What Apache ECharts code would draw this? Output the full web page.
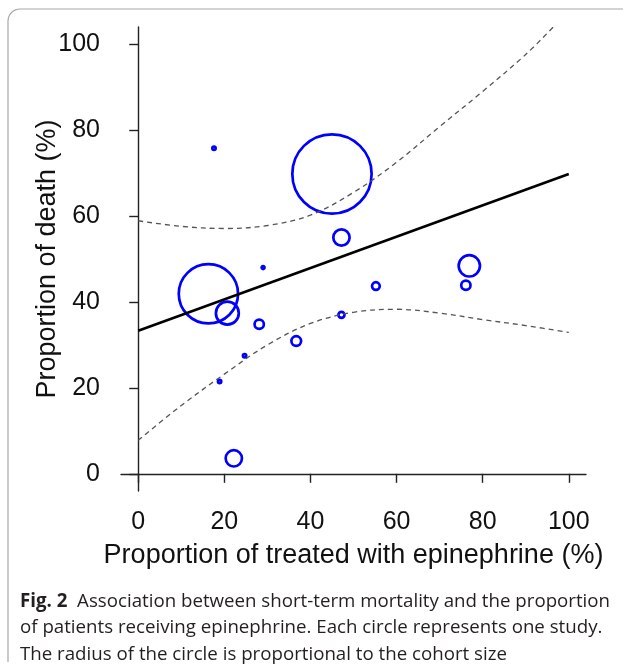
<!DOCTYPE html>
<html>
<head>
<meta charset="utf-8">
<script src="https://cdn.jsdelivr.net/npm/echarts@6/dist/echarts.min.js"></script>
<style>
html,body{margin:0;padding:0;background:#fff;}
#chart{width:623px;height:670px;}
</style>
</head>
<body>
<div id="chart"></div>
<script>
// ---- data ----
const xTickValues = [0, 20, 40, 60, 80, 100];
const yTickValues = [0, 20, 40, 60, 80, 100];

// studies: proportion treated with epinephrine (%), proportion of death (%), cohort size (relative)
const studyX =      [17.6, 45.0, 47.2, 16.3, 20.7, 29.0, 28.1, 36.7, 24.7, 18.9, 22.2, 76.9, 76.1, 55.2, 47.2];
const studyY =      [75.8, 69.8, 55.0, 41.9, 37.4, 48.0, 34.8, 30.9, 27.5, 21.5,  3.6, 48.4, 43.9, 43.7, 37.0];
const studyCohort = [ 300, 4100,  950, 3100, 1280,  280,  600,  620,  300,  300,  950, 1200,  600,  520,  440];

// meta-regression fit
const fitX = [0, 100];
const fitY = [33.3, 69.8];

// confidence band
const upperX = [0, 10, 20, 30, 40, 50, 60, 70, 80, 90, 96.4];
const upperY = [58.9, 57.6, 57.1, 57.8, 60.2, 65.5, 72.5, 80.8, 89.0, 97.6, 104.0];
const lowerX = [0, 10, 20, 30, 40, 50, 60, 70, 80, 90, 100];
const lowerY = [7.8, 15.9, 23.2, 30.0, 35.0, 37.6, 38.3, 37.4, 35.9, 34.5, 32.9];

const xTitle = 'Proportion of treated with epinephrine (%)';
const yTitle = 'Proportion of death (%)';
const captionBold = 'Fig. 2';
const captionLines = [
  '  Association between short-term mortality and the proportion',
  'of patients receiving epinephrine. Each circle represents one study.',
  'The radius of the circle is proportional to the cohort size'
];

// ---- chart ----
const pxPerPatient = 0.01;
const ringWidth = 2.7;
const axisFont = 'Arial';
const capFont = 'Open Sans';
const capSize = 18.7;

const zip = (xs, ys) => xs.map((x, i) => [x, ys[i]]);

// frame (decorative): top and left border with rounded top-left corner
const framePts = [[623, 9]];
const cr = 12;
for (let k = 0; k <= 8; k++) {
  const a = Math.PI / 2 + (Math.PI / 2) * (k / 8);
  framePts.push([8 + cr + cr * Math.cos(a), 9 + cr - cr * Math.sin(a)]);
}
framePts.push([8, 662]);

const chart = echarts.init(document.getElementById('chart'), null, {renderer: 'canvas'});

const axisCommon = {
  type: 'value',
  min: -4,
  max: 104,
  splitLine: {show: false},
  axisLine: {show: true, lineStyle: {color: '#222', width: 1.4}},
  axisTick: {show: true, length: 9, lineStyle: {color: '#222', width: 1.4}},
  axisLabel: {color: '#111', fontSize: 25, fontFamily: axisFont},
  nameTextStyle: {color: '#111', fontSize: 27, fontFamily: axisFont},
  nameLocation: 'middle',
  nameMoveOverlap: false
};

chart.setOption({
  animation: false,
  backgroundColor: '#fff',
  grid: {left: 121, right: 37, top: 27, bottom: 179, containLabel: false},
  xAxis: Object.assign({}, axisCommon, {
    name: xTitle,
    nameGap: 51,
    axisTick: Object.assign({}, axisCommon.axisTick, {customValues: xTickValues}),
    axisLabel: Object.assign({}, axisCommon.axisLabel, {customValues: xTickValues, margin: 19})
  }),
  yAxis: Object.assign({}, axisCommon, {
    name: yTitle,
    nameGap: 60,
    axisTick: Object.assign({}, axisCommon.axisTick, {customValues: yTickValues}),
    axisLabel: Object.assign({}, axisCommon.axisLabel, {customValues: yTickValues, margin: 21})
  }),
  series: [
    {
      type: 'scatter',
      data: studyX.map((x, i) => [x, studyY[i], studyCohort[i]]),
      symbol: 'circle',
      symbolSize: (v) => Math.max(1, 2 * v[2] * pxPerPatient - ringWidth),
      itemStyle: {color: 'rgba(255,255,255,0)', borderColor: '#0000ff', borderWidth: ringWidth, opacity: 1},
      silent: true,
      z: 2
    },
    {
      type: 'line',
      data: zip(fitX, fitY),
      showSymbol: false,
      lineStyle: {color: '#000', width: 2.6},
      silent: true,
      z: 3
    },
    {
      type: 'line',
      data: zip(upperX, upperY),
      showSymbol: false,
      smooth: 0.35,
      lineStyle: {color: '#555', width: 1.3, type: [5, 4]},
      silent: true,
      z: 3
    },
    {
      type: 'line',
      data: zip(lowerX, lowerY),
      showSymbol: false,
      smooth: 0.35,
      lineStyle: {color: '#555', width: 1.3, type: [5, 4]},
      silent: true,
      z: 3
    }
  ],
  graphic: [
    {
      type: 'polyline',
      shape: {points: framePts},
      style: {fill: null, stroke: '#a8a8a8', lineWidth: 1.2},
      silent: true
    },
    {
      type: 'text',
      left: 20, top: 592,
      style: {
        text: '{b|' + captionBold + '}' + captionLines[0],
        fill: '#231f20',
        fontSize: capSize,
        fontFamily: capFont,
        rich: {b: {fontWeight: 'bold', fontSize: capSize, fontFamily: capFont, fill: '#231f20'}}
      },
      silent: true
    },
    {
      type: 'text',
      left: 20, top: 618.5,
      style: {text: captionLines[1], fill: '#231f20', fontSize: capSize, fontFamily: capFont},
      silent: true
    },
    {
      type: 'text',
      left: 20, top: 645,
      style: {text: captionLines[2], fill: '#231f20', fontSize: capSize, fontFamily: capFont},
      silent: true
    }
  ]
});
</script>
</body>
</html>
